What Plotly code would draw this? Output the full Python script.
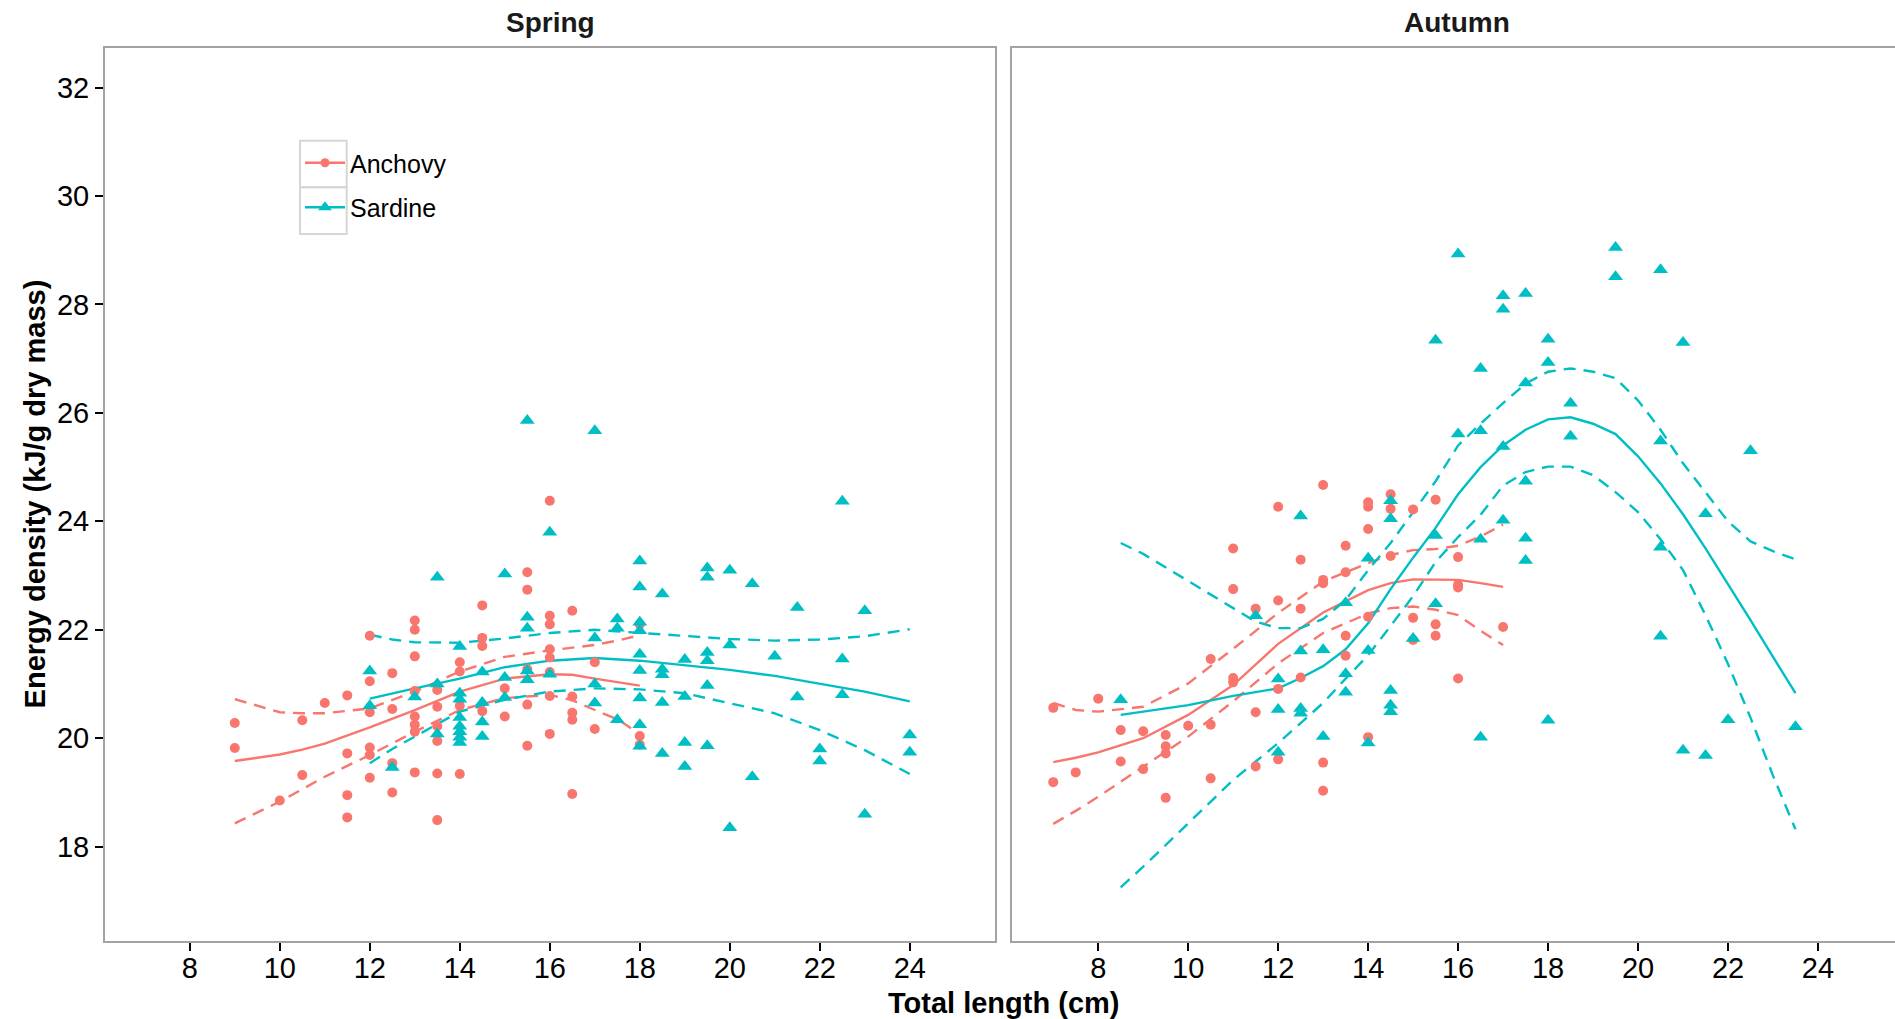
import plotly.graph_objects as go

# ---------------- data ----------------
# Spring - Anchovy points
spring_anchovy_x = [9, 9, 10, 10.5, 10.5, 11, 11.5, 11.5, 11.5, 11.5,
                    12, 12, 12, 12, 12, 12, 12.5, 12.5, 12.5, 12.5,
                    13, 13, 13, 13, 13, 13, 13, 13,
                    13.5, 13.5, 13.5, 13.5, 13.5, 13.5,
                    14, 14, 14, 14, 14.5, 14.5, 14.5, 14.5, 15, 15,
                    15.5, 15.5, 15.5, 15.5, 15.5,
                    16, 16, 16, 16, 16, 16, 16, 16,
                    16.5, 16.5, 16.5, 16.5, 16.5, 17, 17, 18, 18, 18]
spring_anchovy_y = [20.28, 19.82, 18.85, 20.33, 19.32, 20.65, 20.79, 19.72, 18.95, 18.54,
                    21.89, 21.05, 20.48, 19.83, 19.69, 19.27, 21.2, 20.54, 19.54, 19.0,
                    22.17, 22.0, 21.51, 20.87, 20.4, 20.25, 20.12, 19.37,
                    20.89, 20.58, 20.22, 19.95, 19.35, 18.49,
                    21.4, 21.23, 20.6, 19.34, 22.45, 21.85, 21.7, 20.5, 20.92, 20.4,
                    23.06, 22.74, 21.27, 20.62, 19.86,
                    24.38, 22.26, 22.1, 21.64, 21.49, 21.22, 20.78, 20.08,
                    22.35, 20.77, 20.47, 20.34, 18.97, 21.4, 20.17, 22.1, 20.04, 19.88]

# Spring - Sardine points
spring_sardine_x = [12, 12, 12.5, 13, 13.5, 13.5, 13.5,
                    14, 14, 14, 14, 14, 14, 14, 14,
                    14.5, 14.5, 14.5, 14.5, 15, 15, 15,
                    15.5, 15.5, 15.5, 15.5, 15.5, 16, 16,
                    17, 17, 17, 17, 17.5, 17.5, 17.5,
                    18, 18, 18, 18, 18, 18, 18, 18, 18,
                    18.5, 18.5, 18.5, 18.5, 18.5, 19, 19, 19, 19,
                    19.5, 19.5, 19.5, 19.5, 19.5, 19.5, 20, 20, 20,
                    20.5, 20.5, 21, 21.5, 21.5, 22, 22, 22.5, 22.5, 22.5,
                    23, 23, 24, 24]
spring_sardine_y = [21.24, 20.6, 19.46, 20.76, 22.97, 21.0, 20.08,
                    21.69, 20.83, 20.72, 20.38, 20.22, 20.12, 20.02, 19.92,
                    21.22, 20.66, 20.3, 20.03, 23.03, 21.12, 20.75,
                    25.86, 22.23, 22.03, 21.24, 21.08, 23.8, 21.18,
                    25.67, 21.85, 21.0, 20.65, 22.2, 22.03, 20.34,
                    23.27, 22.79, 22.14, 21.98, 21.55, 21.25, 20.74, 20.25, 19.85,
                    22.66, 21.27, 21.17, 20.66, 19.72, 21.45, 20.77, 19.92, 19.48,
                    23.14, 22.97, 21.58, 21.43, 20.97, 19.86, 23.1, 21.72, 18.35,
                    22.85, 19.29, 21.51, 22.41, 20.76, 19.8, 19.58, 24.37, 21.46, 20.8,
                    22.35, 18.6, 20.06, 19.74]

# Autumn - Anchovy points
autumn_anchovy_x = [7, 7, 7.5, 8, 8.5, 8.5, 9, 9, 9.5, 9.5, 9.5, 9.5, 10,
                    10.5, 10.5, 10.5, 11, 11, 11, 11, 11.5, 11.5, 11.5,
                    12, 12, 12, 12, 12.5, 12.5, 12.5,
                    13, 13, 13, 13, 13, 13.5, 13.5, 13.5, 13.5,
                    14, 14, 14, 14, 14, 14.5, 14.5, 14.5,
                    15, 15, 15, 15.5, 15.5, 15.5, 16, 16, 16, 16, 17]
autumn_anchovy_y = [20.56, 19.19, 19.37, 20.73, 20.15, 19.57, 20.13, 19.43, 20.06, 19.85, 19.72, 18.9, 20.23,
                    21.46, 20.25, 19.26, 23.5, 22.75, 21.11, 21.03, 22.39, 20.48, 19.48,
                    24.27, 22.54, 20.91, 19.61, 23.29, 22.39, 21.12,
                    24.67, 22.92, 22.86, 19.55, 19.03, 23.55, 23.06, 21.89, 21.52,
                    24.35, 24.27, 23.86, 22.24, 20.02, 24.5, 24.23, 23.36,
                    24.22, 22.22, 21.81, 24.4, 22.1, 21.89, 23.34, 22.83, 22.78, 21.1, 22.05]

# Autumn - Sardine points
autumn_sardine_x = [8.5, 11.5, 12, 12, 12, 12.5, 12.5, 12.5, 12.5, 13, 13,
                    13.5, 13.5, 13.5, 14, 14, 14, 14.5, 14.5, 14.5, 14.5, 14.5, 15,
                    15.5, 15.5, 15.5, 16, 16, 16.5, 16.5, 16.5, 16.5,
                    17, 17, 17, 17, 17.5, 17.5, 17.5, 17.5, 17.5,
                    18, 18, 18, 18.5, 18.5, 19.5, 19.5,
                    20.5, 20.5, 20.5, 20.5, 21, 21, 21.5, 21.5, 22, 22.5, 23.5]
autumn_sardine_y = [20.71, 22.26, 21.09, 20.53, 19.74, 24.1, 21.61, 20.55, 20.46, 21.63, 20.03,
                    22.5, 21.19, 20.85, 23.32, 21.62, 19.91, 24.38, 24.05, 20.88, 20.61, 20.49, 21.84,
                    27.34, 23.74, 22.48, 28.93, 25.61, 26.82, 25.67, 23.67, 20.02,
                    28.16, 27.91, 25.38, 24.02, 28.2, 26.55, 24.74, 23.69, 23.28,
                    27.36, 26.93, 20.33, 26.18, 25.57, 29.05, 28.51,
                    28.64, 25.48, 23.52, 21.88, 27.3, 19.78, 24.14, 19.68, 20.34, 25.3, 20.21]

# Smoothed fits (loess) with confidence bands
spring_anchovy_fit_x = [9, 10, 10.5, 11, 12, 13, 14, 15, 16, 16.5, 17, 17.5, 18]
spring_anchovy_fit = [19.58, 19.7, 19.79, 19.9, 20.2, 20.52, 20.86, 21.1, 21.18, 21.17, 21.1, 21.04, 20.97]
spring_anchovy_upr = [20.72, 20.48, 20.46, 20.46, 20.55, 20.86, 21.23, 21.5, 21.62, 21.67, 21.72, 21.8, 21.9]
spring_anchovy_lwr = [18.43, 18.83, 19.06, 19.29, 19.69, 20.12, 20.52, 20.74, 20.8, 20.7, 20.52, 20.35, 20.08]

spring_sardine_fit_x = [12, 12.5, 13, 14, 15, 16, 17, 18, 19, 20, 21, 22, 23, 24]
spring_sardine_fit = [20.73, 20.83, 20.92, 21.1, 21.31, 21.43, 21.48, 21.43, 21.35, 21.26, 21.15, 21.01, 20.86, 20.68]
spring_sardine_upr = [21.91, 21.82, 21.77, 21.76, 21.84, 21.94, 22.0, 21.94, 21.88, 21.83, 21.8, 21.82, 21.88, 22.01]
spring_sardine_lwr = [19.54, 19.8, 20.03, 20.49, 20.71, 20.86, 20.92, 20.9, 20.83, 20.65, 20.46, 20.15, 19.78, 19.34]

autumn_anchovy_fit_x = [7, 7.5, 8, 9, 10, 11, 12, 13, 14, 14.5, 15, 15.5, 16, 16.5, 17]
autumn_anchovy_fit = [19.56, 19.64, 19.74, 20.0, 20.43, 20.98, 21.74, 22.32, 22.73, 22.86, 22.93, 22.93, 22.92, 22.86, 22.79]
autumn_anchovy_upr = [20.65, 20.52, 20.49, 20.58, 21.01, 21.65, 22.31, 22.89, 23.23, 23.38, 23.47, 23.49, 23.55, 23.72, 23.94]
autumn_anchovy_lwr = [18.42, 18.66, 18.92, 19.48, 20.03, 20.68, 21.38, 21.94, 22.3, 22.4, 22.43, 22.37, 22.27, 21.98, 21.72]

autumn_sardine_fit_x = [8.5, 9, 10, 11, 11.5, 12, 12.5, 13, 13.5, 14, 14.5, 15, 15.5, 16, 16.5,
                        17, 17.5, 18, 18.5, 19, 19.5, 20, 20.5, 21, 21.5, 22, 22.5, 23, 23.5]
autumn_sardine_fit = [20.43, 20.49, 20.61, 20.78, 20.85, 20.92, 21.11, 21.33, 21.64, 22.12, 22.75, 23.33, 23.88, 24.5, 25.0,
                      25.4, 25.69, 25.88, 25.92, 25.8, 25.61, 25.2, 24.7, 24.13, 23.5, 22.85, 22.18, 21.5, 20.83]
autumn_sardine_upr = [23.6, 23.4, 22.9, 22.4, 22.15, 22.03, 22.03, 22.2, 22.55, 23.1, 23.6, 24.17, 24.74, 25.4, 25.8,
                      26.18, 26.54, 26.76, 26.82, 26.76, 26.64, 26.23, 25.69, 25.07, 24.54, 24.0, 23.63, 23.45, 23.3]
autumn_sardine_lwr = [17.25, 17.63, 18.43, 19.23, 19.57, 19.91, 20.28, 20.65, 21.1, 21.53, 22.07, 22.62, 23.25, 23.71, 24.12,
                      24.66, 24.91, 25.01, 25.01, 24.85, 24.54, 24.17, 23.67, 23.1, 22.27, 21.37, 20.38, 19.31, 18.32]

species = ["Anchovy", "Sardine"]
panel_titles = ["Spring", "Autumn"]
x_ticks = [8, 10, 12, 14, 16, 18, 20, 22, 24]
y_ticks = [18, 20, 22, 24, 26, 28, 30, 32]

# ---------------- styling ----------------
COL = {"Anchovy": "#F8766D", "Sardine": "#00BFC4"}
SYM = {"Anchovy": "circle", "Sardine": "triangle-up"}
MSIZE = {"Anchovy": 10, "Sardine": 13}
FONT = "Arial, 'Liberation Sans', sans-serif"
BORDER = "#A3A3A3"

W, H = 1895, 1019
ML, MR, MT, MB = 105, 0, 48, 78
PW, PH = W - ML - MR, H - MT - MB

def px_x(X):
    return (X - ML) / PW

def px_y(Y):
    return (H - MB - Y) / PH

fig = go.Figure()

panels = {
    "Spring": {
        "xa": "x", "ya": "y",
        "pts": {"Anchovy": (spring_anchovy_x, spring_anchovy_y),
                "Sardine": (spring_sardine_x, spring_sardine_y)},
        "fit": {"Anchovy": (spring_anchovy_fit_x, spring_anchovy_fit, spring_anchovy_upr, spring_anchovy_lwr),
                "Sardine": (spring_sardine_fit_x, spring_sardine_fit, spring_sardine_upr, spring_sardine_lwr)},
    },
    "Autumn": {
        "xa": "x2", "ya": "y2",
        "pts": {"Anchovy": (autumn_anchovy_x, autumn_anchovy_y),
                "Sardine": (autumn_sardine_x, autumn_sardine_y)},
        "fit": {"Anchovy": (autumn_anchovy_fit_x, autumn_anchovy_fit, autumn_anchovy_upr, autumn_anchovy_lwr),
                "Sardine": (autumn_sardine_fit_x, autumn_sardine_fit, autumn_sardine_upr, autumn_sardine_lwr)},
    },
}

for pname in panel_titles:
    p = panels[pname]
    for sp in species:
        fx, fy, fu, fl = p["fit"][sp]
        for yy, dash in ((fu, "12px,8px"), (fl, "12px,8px"), (fy, "solid")):
            fig.add_trace(go.Scatter(
                x=fx, y=yy, mode="lines", xaxis=p["xa"], yaxis=p["ya"],
                line=dict(color=COL[sp], width=2.4, dash=dash),
                showlegend=False, hoverinfo="skip"))
    for sp in species:
        px_, py_ = p["pts"][sp]
        fig.add_trace(go.Scatter(
            x=px_, y=py_, mode="markers", xaxis=p["xa"], yaxis=p["ya"],
            marker=dict(color=COL[sp], symbol=SYM[sp], size=MSIZE[sp], line=dict(width=0)),
            showlegend=False, name=sp))

# legend entries (line + marker, like the ggplot key)
for sp in species:
    fig.add_trace(go.Scatter(
        x=[None], y=[None], mode="lines+markers", name=sp, legendgroup=sp,
        line=dict(color=COL[sp], width=2.4),
        marker=dict(color=COL[sp], symbol=SYM[sp], size=MSIZE[sp] - 1),
        xaxis="x", yaxis="y", showlegend=True))

yrange = [16.26, 32.73]
xr_left = [6.116, 6.116 + 890.3 / 45.0]
xr_right = [6.09, 6.09 + 883.0 / 45.0]

axis_common = dict(
    showgrid=False, zeroline=False, showline=True, linecolor=BORDER, linewidth=2,
    ticks="outside", ticklen=8, tickwidth=2, tickcolor="black",
    tickfont=dict(family=FONT, size=29, color="black"),
)

left_dom = [0, px_x(995.3)]
right_dom = [px_x(1012.3), 1]

fig.update_layout(
    width=W, height=H,
    margin=dict(l=ML, r=MR, t=MT, b=MB),
    paper_bgcolor="white", plot_bgcolor="white",
    font=dict(family=FONT, color="black"),
    xaxis=dict(domain=left_dom, range=xr_left, tickvals=x_ticks, anchor="y", mirror=True,
               ticklabelstandoff=-8, **axis_common),
    yaxis=dict(domain=[0, 1], range=yrange, tickvals=y_ticks, anchor="x", mirror=True, **axis_common),
    xaxis2=dict(domain=right_dom, range=xr_right, tickvals=x_ticks, anchor="y2", mirror=True,
                ticklabelstandoff=-8, **axis_common),
    yaxis2=dict(domain=[0, 1], range=yrange, tickvals=y_ticks, anchor="x2", mirror=False,
                showgrid=False, zeroline=False, showline=True, linecolor=BORDER, linewidth=2,
                ticks="", showticklabels=False),
    showlegend=True,
    legend=dict(
        x=px_x(300), y=px_y(140), xanchor="left", yanchor="top",
        bgcolor="rgba(0,0,0,0)", borderwidth=0,
        font=dict(family=FONT, size=25, color="black"),
        tracegroupgap=9, itemwidth=40,
    ),
)

annotations = [
    dict(text="<b>Spring</b>", x=(left_dom[0] + left_dom[1]) / 2, y=px_y(22), xref="paper", yref="paper",
         showarrow=False, xanchor="center", yanchor="middle", font=dict(family=FONT, size=28, color="#1a1a1a")),
    dict(text="<b>Autumn</b>", x=px_x(1457), y=px_y(22), xref="paper", yref="paper",
         showarrow=False, xanchor="center", yanchor="middle", font=dict(family=FONT, size=28, color="#1a1a1a")),
    dict(text="<b>Total length (cm)</b>", x=px_x(1003.5), y=px_y(1003), xref="paper", yref="paper",
         showarrow=False, xanchor="center", yanchor="middle", font=dict(family=FONT, size=29, color="black")),
    dict(text="<b>Energy density (kJ/g dry mass)</b>", x=px_x(35), y=px_y(494.4), xref="paper", yref="paper",
         showarrow=False, xanchor="center", yanchor="middle", textangle=-90,
         font=dict(family=FONT, size=29, color="black")),
]
fig.update_layout(annotations=annotations)

# legend key boxes (ggplot-style key backgrounds)
shapes = []
for Y0, Y1 in ((140.7, 187.3), (187.3, 234.0)):
    shapes.append(dict(type="rect", xref="paper", yref="paper",
                       x0=px_x(300), x1=px_x(346.7), y0=px_y(Y1), y1=px_y(Y0),
                       line=dict(color="#D6D6D6", width=2), fillcolor="rgba(0,0,0,0)", layer="below"))
fig.update_layout(shapes=shapes)

# remove the browser's default 8px body margin so the figure sits at the page origin
fig.write_html("out.html",
               config={"displayModeBar": False},
               post_script="document.body.style.margin='0';document.body.style.overflow='hidden';")
